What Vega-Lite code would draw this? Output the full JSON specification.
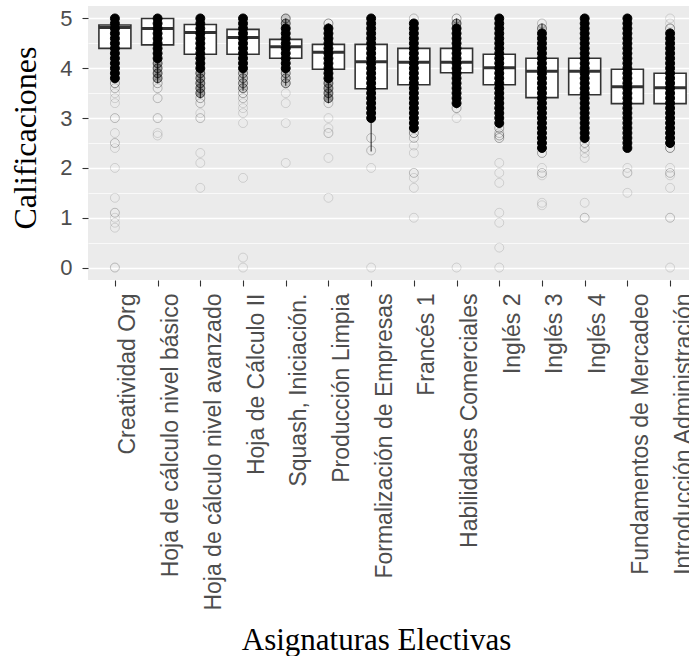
{
"$schema": "https://vega.github.io/schema/vega-lite/v6.json",
"autosize": {"type": "none"},
"width": 601,
"height": 274,
"padding": {"left": 88, "top": 6, "right": 0, "bottom": 376},
"background": "white",
"config": {
  "view": {"fill": "#EBEBEB", "stroke": null},
  "axis": {"domain": false, "gridColor": "white", "tickColor": "#333333", "tickWidth": 1.1, "labelColor": "#4D4D4D", "labelFont": "Liberation Sans", "titleFont": "Liberation Serif", "titleFontWeight": "normal", "titleColor": "black"}
},
"datasets": {
"boxes": [
{"c":"Creatividad Org","lo":3.7,"q1":4.40,"med":4.82,"q3":4.87,"hi":5.0},
{"c":"Hoja de cálculo nivel básico","lo":3.7,"q1":4.47,"med":4.80,"q3":5.0,"hi":5.0},
{"c":"Hoja de cálculo nivel avanzado","lo":3.4,"q1":4.28,"med":4.72,"q3":4.88,"hi":5.0},
{"c":"Hoja de Cálculo II","lo":3.55,"q1":4.28,"med":4.62,"q3":4.78,"hi":5.0},
{"c":"Squash, Iniciación.","lo":3.65,"q1":4.20,"med":4.43,"q3":4.58,"hi":5.0},
{"c":"Producción Limpia","lo":3.3,"q1":3.98,"med":4.32,"q3":4.48,"hi":4.9},
{"c":"Formalización de Empresas","lo":2.33,"q1":3.59,"med":4.13,"q3":4.48,"hi":5.0},
{"c":"Francés 1","lo":2.7,"q1":3.67,"med":4.12,"q3":4.40,"hi":4.95},
{"c":"Habilidades Comerciales","lo":3.2,"q1":3.91,"med":4.12,"q3":4.40,"hi":5.0},
{"c":"Inglés 2","lo":2.8,"q1":3.67,"med":4.01,"q3":4.28,"hi":5.0},
{"c":"Inglés 3","lo":2.35,"q1":3.41,"med":3.94,"q3":4.20,"hi":4.9},
{"c":"Inglés 4","lo":2.5,"q1":3.47,"med":3.94,"q3":4.20,"hi":5.0},
{"c":"Fundamentos de Mercadeo","lo":2.35,"q1":3.29,"med":3.63,"q3":3.98,"hi":5.0},
{"c":"Introducción Administración","lo":2.4,"q1":3.29,"med":3.61,"q3":3.90,"hi":4.8}
],
"pts": [
{"c":"Creatividad Org","v":3.8,"n":10},{"c":"Creatividad Org","v":3.9,"n":10},{"c":"Creatividad Org","v":4.0,"n":10},{"c":"Creatividad Org","v":4.1,"n":10},{"c":"Creatividad Org","v":4.2,"n":10},{"c":"Creatividad Org","v":4.3,"n":10},{"c":"Creatividad Org","v":4.4,"n":10},{"c":"Creatividad Org","v":4.5,"n":10},{"c":"Creatividad Org","v":4.6,"n":10},{"c":"Creatividad Org","v":4.7,"n":10},{"c":"Creatividad Org","v":4.8,"n":10},{"c":"Creatividad Org","v":4.9,"n":10},{"c":"Creatividad Org","v":5.0,"n":10},
{"c":"Creatividad Org","v":3.7,"n":4},{"c":"Creatividad Org","v":3.6,"n":2},{"c":"Creatividad Org","v":3.5,"n":1},{"c":"Creatividad Org","v":3.4,"n":1},{"c":"Creatividad Org","v":3.3,"n":1},{"c":"Creatividad Org","v":3.0,"n":2},{"c":"Creatividad Org","v":2.7,"n":1},{"c":"Creatividad Org","v":2.5,"n":2},{"c":"Creatividad Org","v":2.4,"n":1},{"c":"Creatividad Org","v":2.0,"n":1},{"c":"Creatividad Org","v":1.4,"n":1},{"c":"Creatividad Org","v":1.1,"n":2},{"c":"Creatividad Org","v":1.0,"n":1},{"c":"Creatividad Org","v":0.9,"n":1},{"c":"Creatividad Org","v":0.8,"n":1},{"c":"Creatividad Org","v":0,"n":2},
{"c":"Hoja de cálculo nivel básico","v":4.2,"n":10},{"c":"Hoja de cálculo nivel básico","v":4.3,"n":10},{"c":"Hoja de cálculo nivel básico","v":4.4,"n":10},{"c":"Hoja de cálculo nivel básico","v":4.5,"n":10},{"c":"Hoja de cálculo nivel básico","v":4.6,"n":10},{"c":"Hoja de cálculo nivel básico","v":4.7,"n":10},{"c":"Hoja de cálculo nivel básico","v":4.8,"n":10},{"c":"Hoja de cálculo nivel básico","v":4.9,"n":10},{"c":"Hoja de cálculo nivel básico","v":5.0,"n":10},
{"c":"Hoja de cálculo nivel básico","v":3.8,"n":6},{"c":"Hoja de cálculo nivel básico","v":3.9,"n":6},{"c":"Hoja de cálculo nivel básico","v":4.0,"n":6},{"c":"Hoja de cálculo nivel básico","v":4.1,"n":6},
{"c":"Hoja de cálculo nivel básico","v":3.7,"n":3},{"c":"Hoja de cálculo nivel básico","v":3.6,"n":2},{"c":"Hoja de cálculo nivel básico","v":3.4,"n":2},{"c":"Hoja de cálculo nivel básico","v":3.0,"n":2},{"c":"Hoja de cálculo nivel básico","v":2.7,"n":1},{"c":"Hoja de cálculo nivel básico","v":2.65,"n":1},
{"c":"Hoja de cálculo nivel avanzado","v":4.0,"n":10},{"c":"Hoja de cálculo nivel avanzado","v":4.1,"n":10},{"c":"Hoja de cálculo nivel avanzado","v":4.2,"n":10},{"c":"Hoja de cálculo nivel avanzado","v":4.3,"n":10},{"c":"Hoja de cálculo nivel avanzado","v":4.4,"n":10},{"c":"Hoja de cálculo nivel avanzado","v":4.5,"n":10},{"c":"Hoja de cálculo nivel avanzado","v":4.6,"n":10},{"c":"Hoja de cálculo nivel avanzado","v":4.7,"n":10},{"c":"Hoja de cálculo nivel avanzado","v":4.8,"n":10},{"c":"Hoja de cálculo nivel avanzado","v":4.9,"n":10},{"c":"Hoja de cálculo nivel avanzado","v":5.0,"n":10},
{"c":"Hoja de cálculo nivel avanzado","v":3.5,"n":6},{"c":"Hoja de cálculo nivel avanzado","v":3.6,"n":6},{"c":"Hoja de cálculo nivel avanzado","v":3.7,"n":6},{"c":"Hoja de cálculo nivel avanzado","v":3.8,"n":6},{"c":"Hoja de cálculo nivel avanzado","v":3.9,"n":6},
{"c":"Hoja de cálculo nivel avanzado","v":3.4,"n":3},{"c":"Hoja de cálculo nivel avanzado","v":3.3,"n":2},{"c":"Hoja de cálculo nivel avanzado","v":3.1,"n":1},{"c":"Hoja de cálculo nivel avanzado","v":3.0,"n":2},{"c":"Hoja de cálculo nivel avanzado","v":2.3,"n":1},{"c":"Hoja de cálculo nivel avanzado","v":2.1,"n":1},{"c":"Hoja de cálculo nivel avanzado","v":1.6,"n":1},
{"c":"Hoja de Cálculo II","v":4.0,"n":10},{"c":"Hoja de Cálculo II","v":4.1,"n":10},{"c":"Hoja de Cálculo II","v":4.2,"n":10},{"c":"Hoja de Cálculo II","v":4.3,"n":10},{"c":"Hoja de Cálculo II","v":4.4,"n":10},{"c":"Hoja de Cálculo II","v":4.5,"n":10},{"c":"Hoja de Cálculo II","v":4.6,"n":10},{"c":"Hoja de Cálculo II","v":4.7,"n":10},{"c":"Hoja de Cálculo II","v":4.8,"n":10},{"c":"Hoja de Cálculo II","v":4.9,"n":10},{"c":"Hoja de Cálculo II","v":5.0,"n":10},
{"c":"Hoja de Cálculo II","v":3.6,"n":5},{"c":"Hoja de Cálculo II","v":3.7,"n":5},{"c":"Hoja de Cálculo II","v":3.8,"n":5},{"c":"Hoja de Cálculo II","v":3.9,"n":5},
{"c":"Hoja de Cálculo II","v":3.5,"n":3},{"c":"Hoja de Cálculo II","v":3.4,"n":2},{"c":"Hoja de Cálculo II","v":3.3,"n":1},{"c":"Hoja de Cálculo II","v":3.2,"n":1},{"c":"Hoja de Cálculo II","v":3.1,"n":1},{"c":"Hoja de Cálculo II","v":2.9,"n":1},{"c":"Hoja de Cálculo II","v":1.8,"n":1},{"c":"Hoja de Cálculo II","v":0.2,"n":1},{"c":"Hoja de Cálculo II","v":0,"n":1},
{"c":"Squash, Iniciación.","v":4.0,"n":10},{"c":"Squash, Iniciación.","v":4.1,"n":10},{"c":"Squash, Iniciación.","v":4.2,"n":10},{"c":"Squash, Iniciación.","v":4.3,"n":10},{"c":"Squash, Iniciación.","v":4.4,"n":10},{"c":"Squash, Iniciación.","v":4.5,"n":10},{"c":"Squash, Iniciación.","v":4.6,"n":10},{"c":"Squash, Iniciación.","v":4.7,"n":10},{"c":"Squash, Iniciación.","v":4.8,"n":10},
{"c":"Squash, Iniciación.","v":4.9,"n":6},{"c":"Squash, Iniciación.","v":5.0,"n":5},{"c":"Squash, Iniciación.","v":3.7,"n":5},{"c":"Squash, Iniciación.","v":3.8,"n":5},{"c":"Squash, Iniciación.","v":3.9,"n":5},
{"c":"Squash, Iniciación.","v":3.5,"n":1},{"c":"Squash, Iniciación.","v":3.3,"n":1},{"c":"Squash, Iniciación.","v":2.9,"n":1},{"c":"Squash, Iniciación.","v":2.1,"n":1},
{"c":"Producción Limpia","v":3.8,"n":10},{"c":"Producción Limpia","v":3.9,"n":10},{"c":"Producción Limpia","v":4.0,"n":10},{"c":"Producción Limpia","v":4.1,"n":10},{"c":"Producción Limpia","v":4.2,"n":10},{"c":"Producción Limpia","v":4.3,"n":10},{"c":"Producción Limpia","v":4.4,"n":10},{"c":"Producción Limpia","v":4.5,"n":10},{"c":"Producción Limpia","v":4.6,"n":10},{"c":"Producción Limpia","v":4.7,"n":10},{"c":"Producción Limpia","v":4.8,"n":10},
{"c":"Producción Limpia","v":4.9,"n":4},{"c":"Producción Limpia","v":3.4,"n":6},{"c":"Producción Limpia","v":3.5,"n":6},{"c":"Producción Limpia","v":3.6,"n":6},{"c":"Producción Limpia","v":3.7,"n":6},
{"c":"Producción Limpia","v":3.3,"n":2},{"c":"Producción Limpia","v":3.0,"n":1},{"c":"Producción Limpia","v":2.8,"n":1},{"c":"Producción Limpia","v":2.7,"n":2},{"c":"Producción Limpia","v":2.2,"n":1},{"c":"Producción Limpia","v":1.4,"n":1},
{"c":"Formalización de Empresas","v":3.0,"n":10},{"c":"Formalización de Empresas","v":3.1,"n":10},{"c":"Formalización de Empresas","v":3.2,"n":10},{"c":"Formalización de Empresas","v":3.3,"n":10},{"c":"Formalización de Empresas","v":3.4,"n":10},{"c":"Formalización de Empresas","v":3.5,"n":10},{"c":"Formalización de Empresas","v":3.6,"n":10},{"c":"Formalización de Empresas","v":3.7,"n":10},{"c":"Formalización de Empresas","v":3.8,"n":10},{"c":"Formalización de Empresas","v":3.9,"n":10},{"c":"Formalización de Empresas","v":4.0,"n":10},{"c":"Formalización de Empresas","v":4.1,"n":10},{"c":"Formalización de Empresas","v":4.2,"n":10},{"c":"Formalización de Empresas","v":4.3,"n":10},{"c":"Formalización de Empresas","v":4.4,"n":10},{"c":"Formalización de Empresas","v":4.5,"n":10},{"c":"Formalización de Empresas","v":4.6,"n":10},{"c":"Formalización de Empresas","v":4.7,"n":10},{"c":"Formalización de Empresas","v":4.8,"n":10},{"c":"Formalización de Empresas","v":4.9,"n":10},{"c":"Formalización de Empresas","v":5.0,"n":10},
{"c":"Formalización de Empresas","v":2.6,"n":2},{"c":"Formalización de Empresas","v":2.35,"n":2},{"c":"Formalización de Empresas","v":2.0,"n":1},{"c":"Formalización de Empresas","v":0,"n":1},
{"c":"Francés 1","v":2.8,"n":10},{"c":"Francés 1","v":2.9,"n":10},{"c":"Francés 1","v":3.0,"n":10},{"c":"Francés 1","v":3.1,"n":10},{"c":"Francés 1","v":3.2,"n":10},{"c":"Francés 1","v":3.3,"n":10},{"c":"Francés 1","v":3.4,"n":10},{"c":"Francés 1","v":3.5,"n":10},{"c":"Francés 1","v":3.6,"n":10},{"c":"Francés 1","v":3.7,"n":10},{"c":"Francés 1","v":3.8,"n":10},{"c":"Francés 1","v":3.9,"n":10},{"c":"Francés 1","v":4.0,"n":10},{"c":"Francés 1","v":4.1,"n":10},{"c":"Francés 1","v":4.2,"n":10},{"c":"Francés 1","v":4.3,"n":10},{"c":"Francés 1","v":4.4,"n":10},{"c":"Francés 1","v":4.5,"n":10},{"c":"Francés 1","v":4.6,"n":10},{"c":"Francés 1","v":4.7,"n":10},{"c":"Francés 1","v":4.8,"n":10},{"c":"Francés 1","v":4.9,"n":10},
{"c":"Francés 1","v":5.0,"n":2},{"c":"Francés 1","v":2.7,"n":4},{"c":"Francés 1","v":2.6,"n":2},{"c":"Francés 1","v":2.45,"n":1},{"c":"Francés 1","v":2.3,"n":1},{"c":"Francés 1","v":1.9,"n":2},{"c":"Francés 1","v":1.8,"n":1},{"c":"Francés 1","v":1.6,"n":1},{"c":"Francés 1","v":1.0,"n":1},
{"c":"Habilidades Comerciales","v":3.3,"n":10},{"c":"Habilidades Comerciales","v":3.4,"n":10},{"c":"Habilidades Comerciales","v":3.5,"n":10},{"c":"Habilidades Comerciales","v":3.6,"n":10},{"c":"Habilidades Comerciales","v":3.7,"n":10},{"c":"Habilidades Comerciales","v":3.8,"n":10},{"c":"Habilidades Comerciales","v":3.9,"n":10},{"c":"Habilidades Comerciales","v":4.0,"n":10},{"c":"Habilidades Comerciales","v":4.1,"n":10},{"c":"Habilidades Comerciales","v":4.2,"n":10},{"c":"Habilidades Comerciales","v":4.3,"n":10},{"c":"Habilidades Comerciales","v":4.4,"n":10},{"c":"Habilidades Comerciales","v":4.5,"n":10},{"c":"Habilidades Comerciales","v":4.6,"n":10},{"c":"Habilidades Comerciales","v":4.7,"n":10},{"c":"Habilidades Comerciales","v":4.8,"n":10},
{"c":"Habilidades Comerciales","v":4.9,"n":6},{"c":"Habilidades Comerciales","v":5.0,"n":3},{"c":"Habilidades Comerciales","v":3.2,"n":3},{"c":"Habilidades Comerciales","v":3.0,"n":1},{"c":"Habilidades Comerciales","v":0,"n":1},
{"c":"Inglés 2","v":2.9,"n":10},{"c":"Inglés 2","v":3.0,"n":10},{"c":"Inglés 2","v":3.1,"n":10},{"c":"Inglés 2","v":3.2,"n":10},{"c":"Inglés 2","v":3.3,"n":10},{"c":"Inglés 2","v":3.4,"n":10},{"c":"Inglés 2","v":3.5,"n":10},{"c":"Inglés 2","v":3.6,"n":10},{"c":"Inglés 2","v":3.7,"n":10},{"c":"Inglés 2","v":3.8,"n":10},{"c":"Inglés 2","v":3.9,"n":10},{"c":"Inglés 2","v":4.0,"n":10},{"c":"Inglés 2","v":4.1,"n":10},{"c":"Inglés 2","v":4.2,"n":10},{"c":"Inglés 2","v":4.3,"n":10},{"c":"Inglés 2","v":4.4,"n":10},{"c":"Inglés 2","v":4.5,"n":10},{"c":"Inglés 2","v":4.6,"n":10},{"c":"Inglés 2","v":4.7,"n":10},{"c":"Inglés 2","v":4.8,"n":10},{"c":"Inglés 2","v":4.9,"n":10},{"c":"Inglés 2","v":5.0,"n":10},
{"c":"Inglés 2","v":2.8,"n":3},{"c":"Inglés 2","v":2.7,"n":2},{"c":"Inglés 2","v":2.65,"n":3},{"c":"Inglés 2","v":2.6,"n":3},{"c":"Inglés 2","v":2.1,"n":1},{"c":"Inglés 2","v":1.9,"n":1},{"c":"Inglés 2","v":1.7,"n":1},{"c":"Inglés 2","v":1.1,"n":1},{"c":"Inglés 2","v":0.9,"n":1},{"c":"Inglés 2","v":0.4,"n":1},{"c":"Inglés 2","v":0,"n":1},
{"c":"Inglés 3","v":2.4,"n":10},{"c":"Inglés 3","v":2.5,"n":10},{"c":"Inglés 3","v":2.6,"n":10},{"c":"Inglés 3","v":2.7,"n":10},{"c":"Inglés 3","v":2.8,"n":10},{"c":"Inglés 3","v":2.9,"n":10},{"c":"Inglés 3","v":3.0,"n":10},{"c":"Inglés 3","v":3.1,"n":10},{"c":"Inglés 3","v":3.2,"n":10},{"c":"Inglés 3","v":3.3,"n":10},{"c":"Inglés 3","v":3.4,"n":10},{"c":"Inglés 3","v":3.5,"n":10},{"c":"Inglés 3","v":3.6,"n":10},{"c":"Inglés 3","v":3.7,"n":10},{"c":"Inglés 3","v":3.8,"n":10},{"c":"Inglés 3","v":3.9,"n":10},{"c":"Inglés 3","v":4.0,"n":10},{"c":"Inglés 3","v":4.1,"n":10},{"c":"Inglés 3","v":4.2,"n":10},{"c":"Inglés 3","v":4.3,"n":10},{"c":"Inglés 3","v":4.4,"n":10},{"c":"Inglés 3","v":4.5,"n":10},{"c":"Inglés 3","v":4.6,"n":10},{"c":"Inglés 3","v":4.7,"n":10},
{"c":"Inglés 3","v":4.8,"n":5},{"c":"Inglés 3","v":4.9,"n":2},{"c":"Inglés 3","v":2.3,"n":3},{"c":"Inglés 3","v":2.0,"n":1},{"c":"Inglés 3","v":1.9,"n":2},{"c":"Inglés 3","v":1.85,"n":1},{"c":"Inglés 3","v":1.3,"n":1},{"c":"Inglés 3","v":1.25,"n":1},
{"c":"Inglés 4","v":2.6,"n":10},{"c":"Inglés 4","v":2.7,"n":10},{"c":"Inglés 4","v":2.8,"n":10},{"c":"Inglés 4","v":2.9,"n":10},{"c":"Inglés 4","v":3.0,"n":10},{"c":"Inglés 4","v":3.1,"n":10},{"c":"Inglés 4","v":3.2,"n":10},{"c":"Inglés 4","v":3.3,"n":10},{"c":"Inglés 4","v":3.4,"n":10},{"c":"Inglés 4","v":3.5,"n":10},{"c":"Inglés 4","v":3.6,"n":10},{"c":"Inglés 4","v":3.7,"n":10},{"c":"Inglés 4","v":3.8,"n":10},{"c":"Inglés 4","v":3.9,"n":10},{"c":"Inglés 4","v":4.0,"n":10},{"c":"Inglés 4","v":4.1,"n":10},{"c":"Inglés 4","v":4.2,"n":10},{"c":"Inglés 4","v":4.3,"n":10},{"c":"Inglés 4","v":4.4,"n":10},{"c":"Inglés 4","v":4.5,"n":10},{"c":"Inglés 4","v":4.6,"n":10},{"c":"Inglés 4","v":4.7,"n":10},{"c":"Inglés 4","v":4.8,"n":10},{"c":"Inglés 4","v":4.9,"n":10},{"c":"Inglés 4","v":5.0,"n":10},
{"c":"Inglés 4","v":2.5,"n":3},{"c":"Inglés 4","v":2.4,"n":2},{"c":"Inglés 4","v":2.3,"n":1},{"c":"Inglés 4","v":2.2,"n":1},{"c":"Inglés 4","v":1.3,"n":1},{"c":"Inglés 4","v":1.0,"n":2},
{"c":"Fundamentos de Mercadeo","v":2.4,"n":10},{"c":"Fundamentos de Mercadeo","v":2.5,"n":10},{"c":"Fundamentos de Mercadeo","v":2.6,"n":10},{"c":"Fundamentos de Mercadeo","v":2.7,"n":10},{"c":"Fundamentos de Mercadeo","v":2.8,"n":10},{"c":"Fundamentos de Mercadeo","v":2.9,"n":10},{"c":"Fundamentos de Mercadeo","v":3.0,"n":10},{"c":"Fundamentos de Mercadeo","v":3.1,"n":10},{"c":"Fundamentos de Mercadeo","v":3.2,"n":10},{"c":"Fundamentos de Mercadeo","v":3.3,"n":10},{"c":"Fundamentos de Mercadeo","v":3.4,"n":10},{"c":"Fundamentos de Mercadeo","v":3.5,"n":10},{"c":"Fundamentos de Mercadeo","v":3.6,"n":10},{"c":"Fundamentos de Mercadeo","v":3.7,"n":10},{"c":"Fundamentos de Mercadeo","v":3.8,"n":10},{"c":"Fundamentos de Mercadeo","v":3.9,"n":10},{"c":"Fundamentos de Mercadeo","v":4.0,"n":10},{"c":"Fundamentos de Mercadeo","v":4.1,"n":10},{"c":"Fundamentos de Mercadeo","v":4.2,"n":10},{"c":"Fundamentos de Mercadeo","v":4.3,"n":10},{"c":"Fundamentos de Mercadeo","v":4.4,"n":10},{"c":"Fundamentos de Mercadeo","v":4.5,"n":10},{"c":"Fundamentos de Mercadeo","v":4.6,"n":10},{"c":"Fundamentos de Mercadeo","v":4.7,"n":10},{"c":"Fundamentos de Mercadeo","v":4.8,"n":10},{"c":"Fundamentos de Mercadeo","v":4.9,"n":10},{"c":"Fundamentos de Mercadeo","v":5.0,"n":10},
{"c":"Fundamentos de Mercadeo","v":2.0,"n":1},{"c":"Fundamentos de Mercadeo","v":1.9,"n":2},{"c":"Fundamentos de Mercadeo","v":1.5,"n":1},
{"c":"Introducción Administración","v":2.5,"n":10},{"c":"Introducción Administración","v":2.6,"n":10},{"c":"Introducción Administración","v":2.7,"n":10},{"c":"Introducción Administración","v":2.8,"n":10},{"c":"Introducción Administración","v":2.9,"n":10},{"c":"Introducción Administración","v":3.0,"n":10},{"c":"Introducción Administración","v":3.1,"n":10},{"c":"Introducción Administración","v":3.2,"n":10},{"c":"Introducción Administración","v":3.3,"n":10},{"c":"Introducción Administración","v":3.4,"n":10},{"c":"Introducción Administración","v":3.5,"n":10},{"c":"Introducción Administración","v":3.6,"n":10},{"c":"Introducción Administración","v":3.7,"n":10},{"c":"Introducción Administración","v":3.8,"n":10},{"c":"Introducción Administración","v":3.9,"n":10},{"c":"Introducción Administración","v":4.0,"n":10},{"c":"Introducción Administración","v":4.1,"n":10},{"c":"Introducción Administración","v":4.2,"n":10},{"c":"Introducción Administración","v":4.3,"n":10},{"c":"Introducción Administración","v":4.4,"n":10},{"c":"Introducción Administración","v":4.5,"n":10},{"c":"Introducción Administración","v":4.6,"n":10},{"c":"Introducción Administración","v":4.7,"n":10},
{"c":"Introducción Administración","v":4.8,"n":4},{"c":"Introducción Administración","v":4.9,"n":1},{"c":"Introducción Administración","v":5.0,"n":1},{"c":"Introducción Administración","v":2.4,"n":4},{"c":"Introducción Administración","v":2.0,"n":1},{"c":"Introducción Administración","v":1.9,"n":2},{"c":"Introducción Administración","v":1.85,"n":1},{"c":"Introducción Administración","v":1.6,"n":1},{"c":"Introducción Administración","v":1.0,"n":2},{"c":"Introducción Administración","v":0,"n":1}
]
},
"encoding": {
  "x": {"field": "c", "type": "nominal", "sort": null,
    "scale": {"type": "point", "padding": 0.63, "range": [0, 609],
      "domain": ["Creatividad Org","Hoja de cálculo nivel básico","Hoja de cálculo nivel avanzado","Hoja de Cálculo II","Squash, Iniciación.","Producción Limpia","Formalización de Empresas","Francés 1","Habilidades Comerciales","Inglés 2","Inglés 3","Inglés 4","Fundamentos de Mercadeo","Introducción Administración"]},
    "axis": {"title": "Asignaturas Electivas", "titleFontSize": 31, "titleX": 288, "titleY": 369, "titleBaseline": "alphabetic", "titleAlign": "center", "titleAnchor": null,
      "labelAngle": 270, "labelAlign": "right", "labelBaseline": "top", "labelFontSize": 23, "labelOffset": 2, "labelPadding": 7, "tickSize": 6, "gridWidth": 1.4, "labelLimit": 500, "labelOverlap": false, "labelBound": false, "labelFlush": false}
  }
},
"layer": [
  {"data": {"name": "boxes"},
   "mark": {"type": "rule", "color": "#333333", "strokeWidth": 1.1},
   "encoding": {
     "y": {"field": "lo", "type": "quantitative", "scale": {"domain": [-0.25, 5.25], "nice": false, "zero": false},
       "axis": {"values": [0,0.5,1,1.5,2,2.5,3,3.5,4,4.5,5], "labelExpr": "datum.value % 1 === 0 ? format(datum.value, 'd') : ''", "labelFontSize": 22, "tickSize": 6, "labelPadding": 10,
         "gridWidth": {"condition": {"test": "datum.value % 1 !== 0", "value": 0.7}, "value": 1.5},
         "tickOpacity": {"condition": {"test": "datum.value % 1 !== 0", "value": 0}, "value": 1},
         "title": "Calificaciones", "titleFontSize": 32, "titleX": -53, "titleY": 131.5, "titleAngle": 270, "titleBaseline": "alphabetic", "titleAlign": "center", "titleAnchor": null}},
     "y2": {"field": "hi"}
   }},
  {"data": {"name": "boxes"},
   "mark": {"type": "bar", "width": 32, "fill": "white", "stroke": "#333333", "strokeWidth": 1.6},
   "encoding": {
     "y": {"field": "q1", "type": "quantitative", "scale": {"domain": [-0.25, 5.25], "nice": false, "zero": false},
       "axis": {"values": [0,0.5,1,1.5,2,2.5,3,3.5,4,4.5,5], "labelExpr": "datum.value % 1 === 0 ? format(datum.value, 'd') : ''", "labelFontSize": 22, "tickSize": 6, "labelPadding": 10,
         "gridWidth": {"condition": {"test": "datum.value % 1 !== 0", "value": 0.7}, "value": 1.5},
         "tickOpacity": {"condition": {"test": "datum.value % 1 !== 0", "value": 0}, "value": 1},
         "title": "Calificaciones", "titleFontSize": 32, "titleX": -53, "titleY": 131.5, "titleAngle": 270, "titleBaseline": "alphabetic", "titleAlign": "center", "titleAnchor": null}},
     "y2": {"field": "q3"}
   }},
  {"data": {"name": "boxes"},
   "mark": {"type": "tick", "color": "#333333", "size": 32, "thickness": 3, "opacity": 1},
   "encoding": {
     "y": {"field": "med", "type": "quantitative", "scale": {"domain": [-0.25, 5.25], "nice": false, "zero": false},
       "axis": {"values": [0,0.5,1,1.5,2,2.5,3,3.5,4,4.5,5], "labelExpr": "datum.value % 1 === 0 ? format(datum.value, 'd') : ''", "labelFontSize": 22, "tickSize": 6, "labelPadding": 10,
         "gridWidth": {"condition": {"test": "datum.value % 1 !== 0", "value": 0.7}, "value": 1.5},
         "tickOpacity": {"condition": {"test": "datum.value % 1 !== 0", "value": 0}, "value": 1},
         "title": "Calificaciones", "titleFontSize": 32, "titleX": -53, "titleY": 131.5, "titleAngle": 270, "titleBaseline": "alphabetic", "titleAlign": "center", "titleAnchor": null}}
   }},
  {"data": {"name": "pts"},
   "mark": {"type": "point", "shape": "circle", "filled": true, "fill": "black", "stroke": "black", "strokeWidth": 1, "size": 80, "opacity": 1},
   "encoding": {
     "y": {"field": "v", "type": "quantitative", "scale": {"domain": [-0.25, 5.25], "nice": false, "zero": false},
       "axis": {"values": [0,0.5,1,1.5,2,2.5,3,3.5,4,4.5,5], "labelExpr": "datum.value % 1 === 0 ? format(datum.value, 'd') : ''", "labelFontSize": 22, "tickSize": 6, "labelPadding": 10,
         "gridWidth": {"condition": {"test": "datum.value % 1 !== 0", "value": 0.7}, "value": 1.5},
         "tickOpacity": {"condition": {"test": "datum.value % 1 !== 0", "value": 0}, "value": 1},
         "title": "Calificaciones", "titleFontSize": 32, "titleX": -53, "titleY": 131.5, "titleAngle": 270, "titleBaseline": "alphabetic", "titleAlign": "center", "titleAnchor": null}},
     "strokeOpacity": {"field": "n", "type": "quantitative", "scale": {"domain": [1, 10], "range": [0.12, 1], "clamp": true}, "legend": null},
     "fillOpacity": {"field": "n", "type": "quantitative", "scale": {"domain": [4, 10], "range": [0, 1], "clamp": true}, "legend": null}
   }}
]
}
